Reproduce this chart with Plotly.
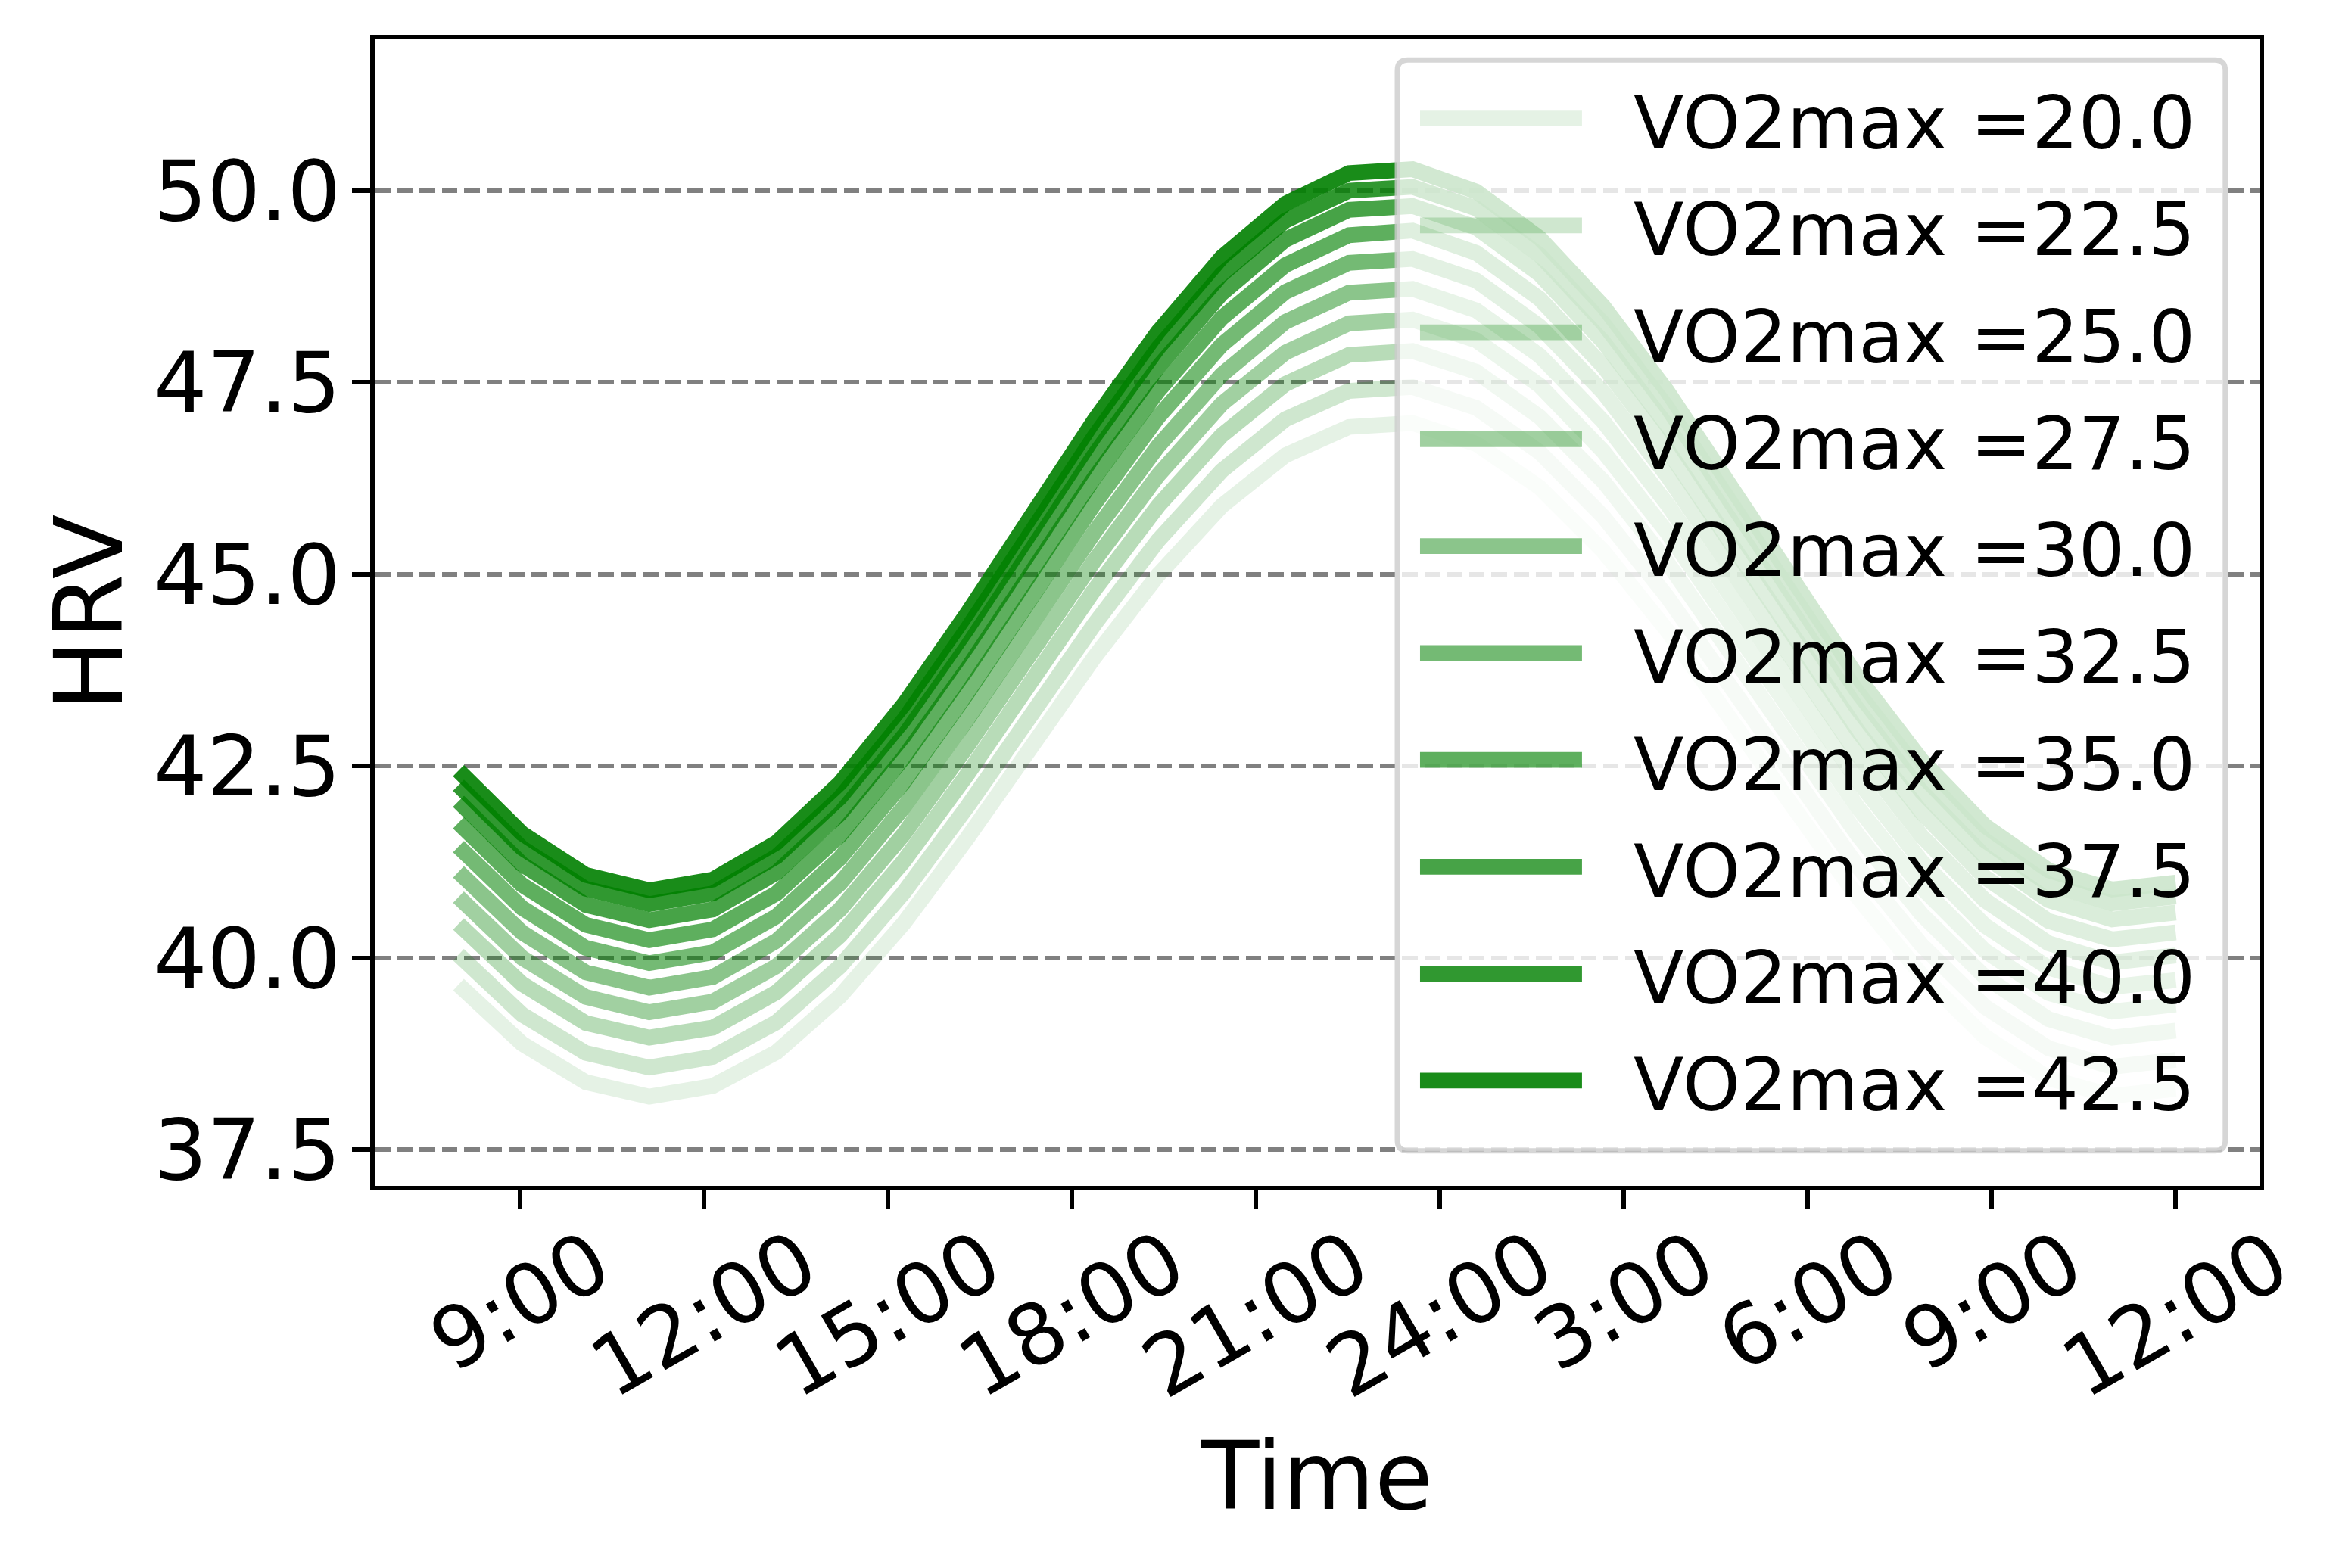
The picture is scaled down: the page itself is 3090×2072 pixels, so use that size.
import plotly.graph_objects as go

# ---------------- data ----------------
hours = [8.000, 9.037, 10.074, 11.111, 12.148, 13.185, 14.222, 15.259, 16.296, 17.333,
         18.370, 19.407, 20.444, 21.481, 22.519, 23.556, 24.593, 25.630, 26.667, 27.704,
         28.741, 29.778, 30.815, 31.852, 32.889, 33.926, 34.963, 36.000]

vo2max_levels = [20.0, 22.5, 25.0, 27.5, 30.0, 32.5, 35.0, 37.5, 40.0, 42.5]

hrv_20_0 = [39.65, 38.88, 38.38, 38.19, 38.33, 38.77, 39.50, 40.45, 41.56, 42.74,
            43.92, 44.99, 45.89, 46.55, 46.92, 46.97, 46.70, 46.13, 45.30, 44.27,
            43.12, 41.93, 40.79, 39.78, 38.97, 38.43, 38.20, 38.29]
hrv_22_5 = [40.04, 39.26, 38.76, 38.57, 38.71, 39.16, 39.89, 40.85, 41.97, 43.17,
            44.35, 45.44, 46.35, 47.02, 47.39, 47.44, 47.17, 46.59, 45.75, 44.71,
            43.55, 42.35, 41.19, 40.17, 39.36, 38.82, 38.58, 38.67]
hrv_25_0 = [40.44, 39.66, 39.15, 38.96, 39.09, 39.55, 40.29, 41.26, 42.39, 43.60,
            44.80, 45.89, 46.81, 47.48, 47.86, 47.91, 47.64, 47.05, 46.21, 45.16,
            43.98, 42.77, 41.60, 40.57, 39.75, 39.20, 38.96, 39.05]
hrv_27_5 = [40.79, 40.00, 39.49, 39.29, 39.43, 39.89, 40.63, 41.61, 42.76, 43.97,
            45.18, 46.29, 47.22, 47.89, 48.27, 48.32, 48.05, 47.46, 46.60, 45.55,
            44.36, 43.14, 41.96, 40.92, 40.09, 39.54, 39.30, 39.39]
hrv_30_0 = [41.12, 40.33, 39.81, 39.61, 39.75, 40.22, 40.97, 41.96, 43.11, 44.34,
            45.55, 46.67, 47.60, 48.29, 48.67, 48.72, 48.44, 47.85, 46.99, 45.92,
            44.73, 43.49, 42.31, 41.26, 40.42, 39.87, 39.62, 39.71]
hrv_32_5 = [41.45, 40.65, 40.13, 39.93, 40.07, 40.54, 41.30, 42.29, 43.45, 44.69,
            45.92, 47.05, 47.99, 48.68, 49.06, 49.11, 48.83, 48.23, 47.37, 46.29,
            45.09, 43.84, 42.65, 41.59, 40.75, 40.19, 39.94, 40.03]
hrv_35_0 = [41.76, 40.95, 40.43, 40.23, 40.37, 40.84, 41.60, 42.61, 43.77, 45.02,
            46.26, 47.39, 48.34, 49.03, 49.42, 49.48, 49.19, 48.59, 47.71, 46.63,
            45.42, 44.16, 42.96, 41.90, 41.05, 40.48, 40.24, 40.33]
hrv_37_5 = [42.04, 41.22, 40.69, 40.49, 40.63, 41.11, 41.88, 42.89, 44.06, 45.32,
            46.56, 47.70, 48.66, 49.36, 49.75, 49.80, 49.52, 48.91, 48.03, 46.94,
            45.72, 44.46, 43.24, 42.17, 41.32, 40.75, 40.50, 40.59]
hrv_40_0 = [42.25, 41.43, 40.90, 40.70, 40.84, 41.32, 42.09, 43.10, 44.29, 45.55,
            46.80, 47.95, 48.91, 49.61, 50.00, 50.05, 49.77, 49.16, 48.27, 47.18,
            45.95, 44.68, 43.46, 42.39, 41.53, 40.96, 40.71, 40.80]
hrv_42_5 = [42.44, 41.62, 41.08, 40.88, 41.02, 41.50, 42.28, 43.30, 44.49, 45.75,
            47.01, 48.16, 49.13, 49.83, 50.23, 50.28, 49.99, 49.38, 48.49, 47.39,
            46.16, 44.88, 43.66, 42.58, 41.72, 41.14, 40.89, 40.98]

series = [hrv_20_0, hrv_22_5, hrv_25_0, hrv_27_5, hrv_30_0,
          hrv_32_5, hrv_35_0, hrv_37_5, hrv_40_0, hrv_42_5]

x_tick_vals = [9, 12, 15, 18, 21, 24, 27, 30, 33, 36]
x_tick_text = ["9:00", "12:00", "15:00", "18:00", "21:00", "24:00", "3:00", "6:00", "9:00", "12:00"]
y_tick_vals = [37.5, 40.0, 42.5, 45.0, 47.5, 50.0]

# ---------------- styles ----------------
alphas = [0.1 + i * 0.8 / 9 for i in range(len(vo2max_levels))]
FONT = "DejaVu Sans"
W, H = 3090, 2072
SPINE = 5.5
HALF = SPINE / 2
# spine centres of the reference frame
FL, FR, FT, FB = 492, 2988, 49, 1570
# plotly draws axis lines just outside the plot area -> inset by half a line width
L, R, T, B = FL + HALF, FR - HALF, FT + HALF, FB - HALF
PW, PH = R - L, B - T
LW = 20.8                              # line width (px)

# axis ranges of the reference frame, trimmed to the inset plot area
X_FULL = (6.6, 37.4)
Y_FULL = (37.0, 52.0)
x_per_px = (X_FULL[1] - X_FULL[0]) / (FR - FL)
y_per_px = (Y_FULL[1] - Y_FULL[0]) / (FB - FT)
x_range = [X_FULL[0] + HALF * x_per_px, X_FULL[1] - HALF * x_per_px]
y_range = [Y_FULL[0] + HALF * y_per_px, Y_FULL[1] - HALF * y_per_px]


def px_to_paper_x(px):
    return (px - L) / PW


def px_to_paper_y(py):
    return (B - py) / PH


def rgba(a):
    return f"rgba(0,128,0,{a:.3f})"


fig = go.Figure()
for v, ys, a in zip(vo2max_levels, series, alphas):
    fig.add_trace(go.Scatter(
        x=hours, y=ys, mode="lines", name=f"VO2max ={v}",
        line=dict(color=rgba(a), width=LW), showlegend=False,
        hoverinfo="skip",
    ))

axis_common = dict(
    showline=True, linecolor="black", linewidth=SPINE, mirror=True,
    ticks="outside", ticklen=24, tickwidth=SPINE, tickcolor="black",
    zeroline=False,
)

fig.update_xaxes(
    range=x_range, tickvals=x_tick_vals, ticktext=x_tick_text,
    showticklabels=False, showgrid=False,
    title=dict(text="Time", font=dict(family=FONT, size=125, color="black"), standoff=313),
    **axis_common,
)
fig.update_yaxes(
    range=y_range, tickvals=y_tick_vals, tickformat=".1f",
    tickfont=dict(family=FONT, size=111, color="black"), ticklabelstandoff=-7,
    showgrid=True, gridcolor="#808080", gridwidth=SPINE, griddash="20.6px,8.9px",
    title=dict(text="HRV", font=dict(family=FONT, size=125, color="black"), standoff=1),
    **axis_common,
)

annotations = []
# rotated x tick labels (centre-aligned like the reference)
for tv, tt in zip(x_tick_vals, x_tick_text):
    annotations.append(dict(
        x=tv, y=0, xref="x", yref="paper", text=tt, showarrow=False,
        textangle=-30, xanchor="center", yanchor="top", yshift=-34,
        borderpad=0, borderwidth=0,
        font=dict(family=FONT, size=111, color="black"),
    ))

# ---------------- custom legend (long handles like the reference) ----------------
box_l, box_r, box_t, box_b = 1846, 2940, 79, 1521
rad = 14
x0, x1 = px_to_paper_x(box_l), px_to_paper_x(box_r)
y0, y1 = px_to_paper_y(box_b), px_to_paper_y(box_t)
rx, ry = rad / PW, rad / PH
path = (f"M {x0+rx},{y1} L {x1-rx},{y1} Q {x1},{y1} {x1},{y1-ry} "
        f"L {x1},{y0+ry} Q {x1},{y0} {x1-rx},{y0} L {x0+rx},{y0} "
        f"Q {x0},{y0} {x0},{y0+ry} L {x0},{y1-ry} Q {x0},{y1} {x0+rx},{y1} Z")
shapes = [dict(type="path", path=path, xref="paper", yref="paper", layer="above",
               fillcolor="rgba(255,255,255,0.8)",
               line=dict(color="rgba(204,204,204,0.8)", width=6.9))]

row0, row_step = 156.4, 141.3
for i, (v, a) in enumerate(zip(vo2max_levels, alphas)):
    yc = px_to_paper_y(row0 + i * row_step)
    shapes.append(dict(type="line", xref="paper", yref="paper", layer="above",
                       x0=px_to_paper_x(1876), x1=px_to_paper_x(2090), y0=yc, y1=yc,
                       line=dict(color=rgba(a), width=LW)))
    annotations.append(dict(
        x=px_to_paper_x(2158), y=yc, xref="paper", yref="paper",
        text=f"VO2max ={v}", showarrow=False, xanchor="left", yanchor="middle",
        yshift=-6, borderpad=0, borderwidth=0,
        font=dict(family=FONT, size=97, color="black"),
    ))

fig.update_layout(
    width=W, height=H,
    margin=dict(l=L, r=W - R, t=T, b=H - B, autoexpand=False),
    paper_bgcolor="white", plot_bgcolor="white",
    showlegend=False,
    shapes=shapes, annotations=annotations,
    font=dict(family=FONT, color="black"),
)

fig.write_html(
    "out.html",
    config={"displayModeBar": False},
    post_script="document.body.style.margin='0';document.body.style.padding='0';",
)
